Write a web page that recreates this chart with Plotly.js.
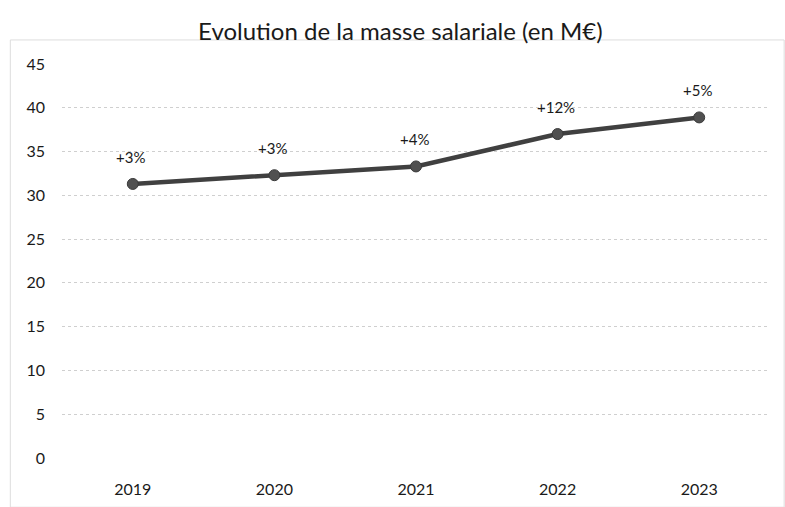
<!DOCTYPE html>
<html>
<head>
<meta charset="utf-8">
<script src="https://cdn.plot.ly/plotly-3.0.1.min.js"></script>
<style>html,body{margin:0;padding:0;background:#fff;}#chart{width:785px;height:507px;}</style>
</head>
<body>
<div id="chart"></div>
<script>
var years = ["2019", "2020", "2021", "2022", "2023"];
var masseSalariale = [31.3, 32.3, 33.3, 37.0, 38.9];
var growthLabels = ["+3%", "+3%", "+4%", "+12%", "+5%"];
var yTicks = [0, 5, 10, 15, 20, 25, 30, 35, 40, 45];

var fontFam = "Lato, 'Open Sans', sans-serif";

var trace = {
  x: years,
  y: masseSalariale,
  type: "scatter",
  mode: "lines+markers",
  line: {color: "#404040", width: 4.5},
  marker: {color: "#505050", size: 11, line: {color: "#3a3a3a", width: 1}},
  cliponaxis: false,
  hoverinfo: "skip"
};

// category axis: annotation x given as the category index
var annotations = years.map(function (yr, i) {
  return {
    x: i, y: masseSalariale[i], xref: "x", yref: "y",
    text: growthLabels[i], showarrow: false,
    yshift: 27, xshift: -2,
    font: {family: fontFam, size: 15, color: "#1a1a1a"}
  };
});

var layout = {
  width: 785,
  height: 507,
  margin: {l: 62, r: 15, t: 64, b: 49},
  paper_bgcolor: "#ffffff",
  plot_bgcolor: "#ffffff",
  showlegend: false,
  title: {
    text: "Evolution de la masse salariale (en M€)",
    font: {family: fontFam, size: 24, color: "#1a1a1a"},
    x: 0.51, xanchor: "center", y: 0.937, yanchor: "middle"
  },
  xaxis: {
    type: "category",
    range: [-0.5, 4.5],
    showgrid: false,
    zeroline: false,
    showline: false,
    ticks: "",
    tickfont: {family: fontFam, size: 16, color: "#1a1a1a"},
    ticklabelstandoff: 20
  },
  yaxis: {
    range: [0, 45],
    tickvals: yTicks,
    ticktext: yTicks.map(String),
    showgrid: true,
    gridcolor: "#cfcfcf",
    gridwidth: 1,
    griddash: "dot",
    zeroline: false,
    showline: false,
    ticks: "",
    tickfont: {family: fontFam, size: 16, color: "#1a1a1a"},
    ticklabelstandoff: 16
  },
  annotations: annotations,
  shapes: [{
    type: "rect", xref: "paper", yref: "paper",
    x0: -0.073, x1: 1.02, y0: -0.125, y1: 1.061,
    line: {color: "#dddddd", width: 1}, fillcolor: "rgba(0,0,0,0)", layer: "below"
  }]
};

Plotly.newPlot("chart", [trace], layout, {staticPlot: true, displayModeBar: false});
</script>
</body>
</html>
